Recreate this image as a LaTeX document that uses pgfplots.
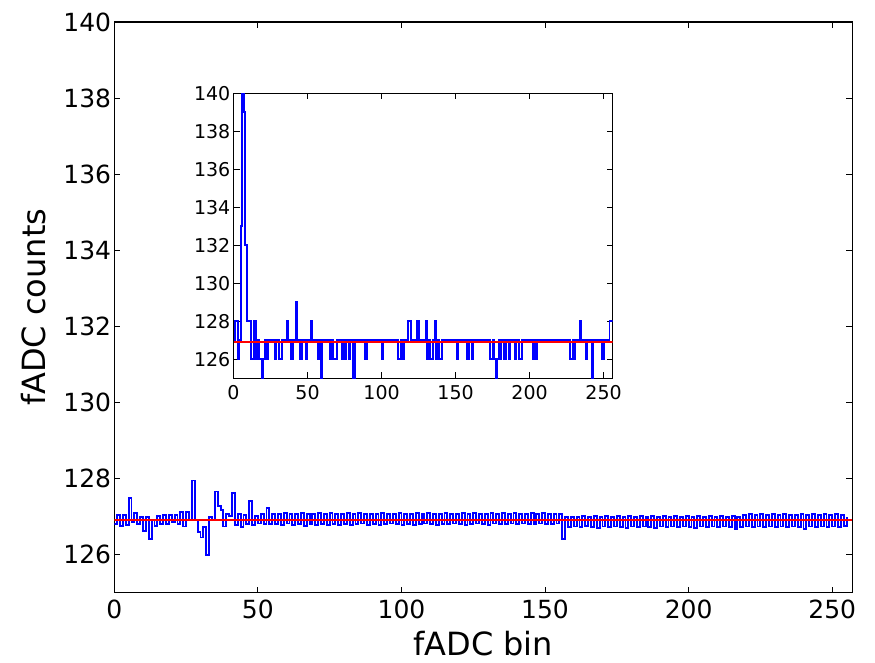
\documentclass[border=0pt]{standalone}
\usepackage{fontspec}
\setmainfont{DejaVu Sans}
\usepackage{pgfplots}
\pgfplotsset{compat=1.18}
\begin{document}
\begin{tikzpicture}[x=1pt,y=1pt]
\useasboundingbox (0,0) rectangle (875,662);
\begin{axis}[
  at={(114.3pt,69.3pt)}, anchor=south west,
  scale only axis, width=738pt, height=570.7pt,
  xmin=0, xmax=257, ymin=125, ymax=140,
  xtick={0,50,...,250}, ytick={126,128,...,140},
  minor tick num=0,
  tick align=inside, major tick length=6pt,
  xtick pos=both, ytick pos=both,
  tick style={black, line width=1pt},
  axis line style={line width=1.2pt},
  ticklabel style={font=\fontsize{25pt}{30pt}\selectfont},
  /pgf/number format/assume math mode=true,
  xticklabel style={inner sep=0pt, yshift=-7pt},
  yticklabel style={inner sep=0pt, xshift=-3pt},
  xlabel={fADC bin}, ylabel={fADC counts},
  label style={font=\fontsize{32pt}{38pt}\selectfont, inner sep=0pt},
  xlabel style={at={(axis description cs:0.5,-0.110)}, anchor=base},
  ylabel style={at={(axis description cs:-0.110,0.5)}, anchor=center},
]
\addplot[const plot, blue, line width=1.9pt] coordinates {
(0,126.80) (1,127.05) (2,126.75) (3,127.05) (4,126.78) (5,127.50) (6,126.85) (7,127.10)
(8,126.80) (9,127.00) (10,126.62) (11,127.00) (12,126.42) (13,126.92) (14,126.75) (15,127.02)
(16,126.80) (17,127.05) (18,126.80) (19,127.05) (20,126.85) (21,127.05) (22,126.80) (23,127.11)
(24,126.74) (25,127.11) (26,126.90) (27,127.95) (28,126.90) (29,126.60) (30,126.45) (31,126.72)
(32,126.00) (33,127.00) (34,126.90) (35,127.66) (36,127.29) (37,127.18) (38,126.74) (39,127.07)
(40,127.02) (41,127.62) (42,126.78) (43,127.07) (44,126.72) (45,127.05) (46,126.80) (47,127.42)
(48,126.78) (49,127.02) (50,126.82) (51,127.08) (52,126.80) (53,127.23) (54,126.80) (55,127.06)
(56,126.80) (57,127.08) (58,126.78) (59,127.10) (60,126.82) (61,127.08) (62,126.78) (63,127.06)
(64,126.80) (65,127.10) (66,126.76) (67,127.08) (68,126.80) (69,127.06) (70,126.78) (71,127.10)
(72,126.80) (73,127.08) (74,126.78) (75,127.10) (76,126.80) (77,127.06) (78,126.78) (79,127.08)
(80,126.80) (81,127.10) (82,126.78) (83,127.08) (84,126.80) (85,127.10) (86,126.82) (87,127.08)
(88,126.78) (89,127.06) (90,126.80) (91,127.08) (92,126.78) (93,127.10) (94,126.80) (95,127.08)
(96,126.82) (97,127.06) (98,126.80) (99,127.10) (100,126.78) (101,127.08) (102,126.80) (103,127.06)
(104,126.78) (105,127.10) (106,126.80) (107,127.08) (108,126.82) (109,127.10) (110,126.80) (111,127.06)
(112,126.78) (113,127.08) (114,126.80) (115,127.10) (116,126.80) (117,127.08) (118,126.82) (119,127.06)
(120,126.80) (121,127.10) (122,126.78) (123,127.08) (124,126.80) (125,127.10) (126,126.82) (127,127.08)
(128,126.80) (129,127.06) (130,126.78) (131,127.10) (132,126.82) (133,127.08) (134,126.80) (135,127.10)
(136,126.80) (137,127.08) (138,126.82) (139,127.10) (140,126.80) (141,127.08) (142,126.82) (143,127.06)
(144,126.80) (145,127.10) (146,126.80) (147,127.08) (148,126.82) (149,127.10) (150,126.80) (151,127.08)
(152,126.80) (153,127.06) (154,126.82) (155,127.06) (156,126.40) (157,127.00) (158,126.72) (159,126.98)
(160,126.74) (161,127.00) (162,126.72) (163,127.02) (164,126.76) (165,127.00) (166,126.72) (167,127.02)
(168,126.70) (169,127.00) (170,126.74) (171,127.02) (172,126.72) (173,127.00) (174,126.74) (175,127.02)
(176,126.72) (177,127.00) (178,126.70) (179,127.02) (180,126.74) (181,127.00) (182,126.72) (183,127.02)
(184,126.74) (185,127.00) (186,126.72) (187,127.02) (188,126.70) (189,127.00) (190,126.74) (191,127.02)
(192,126.72) (193,127.00) (194,126.74) (195,127.02) (196,126.72) (197,127.00) (198,126.74) (199,127.02)
(200,126.72) (201,127.00) (202,126.70) (203,127.02) (204,126.74) (205,127.00) (206,126.72) (207,127.02)
(208,126.74) (209,127.00) (210,126.72) (211,127.02) (212,126.74) (213,127.00) (214,126.72) (215,127.02)
(216,126.66) (217,127.00) (218,126.72) (219,127.04) (220,126.74) (221,127.06) (222,126.72) (223,127.04)
(224,126.74) (225,127.06) (226,126.72) (227,127.04) (228,126.74) (229,127.06) (230,126.72) (231,127.04)
(232,126.74) (233,127.06) (234,126.72) (235,127.04) (236,126.74) (237,127.04) (238,126.72) (239,127.06)
(240,126.68) (241,127.04) (242,126.74) (243,127.06) (244,126.72) (245,127.04) (246,126.74) (247,127.06)
(248,126.72) (249,127.04) (250,126.74) (251,127.06) (252,126.72) (253,127.04) (254,126.76) (255,127.00)
};
\addplot[red, line width=1.9pt] coordinates {(0,126.9) (257,126.9)};
\end{axis}
\begin{axis}[
  at={(233.5pt,283.7pt)}, anchor=south west,
  scale only axis, width=379pt, height=285pt,
  xmin=0, xmax=256, ymin=125, ymax=140,
  xtick={0,50,...,250}, ytick={126,128,...,140},
  minor tick num=0,
  tick align=inside, major tick length=6pt,
  xtick pos=both, ytick pos=both,
  tick style={black, line width=1pt},
  axis line style={line width=1.2pt},
  axis background/.style={fill=white},
  ticklabel style={font=\fontsize{19pt}{23pt}\selectfont},
  /pgf/number format/assume math mode=true,
  xticklabel style={inner sep=0pt, yshift=-7pt},
  yticklabel style={inner sep=0pt, xshift=-3pt},
]
\addplot[const plot, blue, line width=1.9pt] coordinates {
(0,127) (1,128) (3,126) (4,127) (5,133) (6,140) (7,139) (8,132) (9,128)
(12,126) (14,128) (15,126) (16,127) (17,126) (19,125) (20,126) (21,127) (22,126) (23,127)
(28,126) (29,127) (31,126) (33,127) (36,128) (37,127) (39,126) (40,127) (42,129) (43,127)
(45,126) (46,127) (49,126) (50,127) (52,128) (53,127) (57,126) (58,127) (59,125) (60,127)
(65,126) (66,127) (67,126) (70,127) (73,126) (74,127) (75,126) (76,127) (78,126) (79,127)
(81,125) (82,127) (89,126) (90,127) (100,126) (101,127) (111,126) (113,127) (114,126) (115,127)
(118,128) (120,127) (124,128) (125,127) (130,128) (131,126) (132,127) (133,126) (135,127)
(136,128) (137,126) (138,127) (139,126) (141,127) (151,126) (152,127) (158,126) (159,127)
(161,126) (162,127) (173,126) (175,127) (176,126) (177,125) (178,126) (179,127) (180,126)
(181,127) (183,126) (184,127) (186,126) (187,127) (190,126) (191,127) (193,126) (195,127)
(202,126) (203,127) (204,126) (205,127) (227,126) (229,127) (230,126) (231,127) (234,128)
(235,127) (238,126) (239,127) (242,125) (243,127) (249,126) (250,127) (254,128) (256,128)
};
\addplot[red, line width=1.9pt] coordinates {(0,126.9) (256,126.9)};
\end{axis}
\end{tikzpicture}
\end{document}
